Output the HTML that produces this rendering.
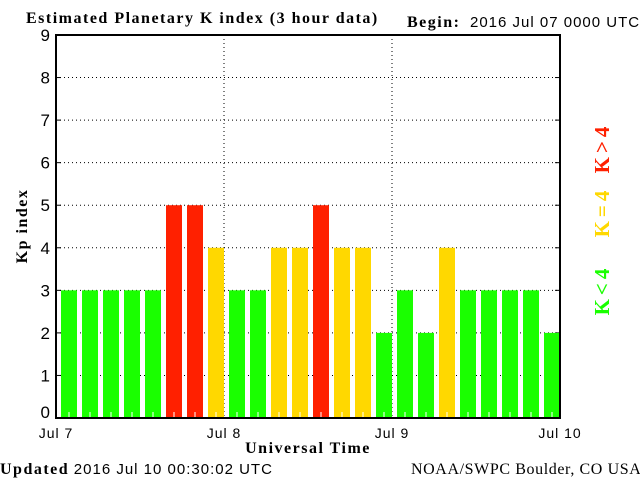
<!DOCTYPE html>
<html><head><meta charset="utf-8"><style>
body{margin:0;background:#fff;}
svg{display:block}
.s{font-family:"Liberation Sans",sans-serif;font-size:14px;letter-spacing:1px}
.b{font-family:"Liberation Serif",serif;font-weight:bold;font-size:16px;letter-spacing:1.5px}
.r{font-family:"Liberation Serif",serif;font-size:16px;letter-spacing:0.6px}
</style></head><body>
<svg id="c" width="640" height="480">
<text class="b" x="26" y="23">Estimated Planetary K index (3 hour data)</text>
<text class="b" x="407" y="27">Begin:</text>
<text class="s" x="470" y="27" style="font-size:15px">2016 Jul 07 0000 UTC</text>
<text class="b" x="0" y="0" transform="translate(27,226) rotate(-90)" text-anchor="middle">Kp index</text>
<text class="b" x="308" y="453" text-anchor="middle">Universal Time</text>
<text class="r" x="0" y="474"><tspan font-weight="bold" letter-spacing="1.5">Updated</tspan> <tspan font-family="Liberation Sans" font-size="15" letter-spacing="1">2016 Jul 10 00:30:02 UTC</tspan></text>
<text class="r" x="411" y="474">NOAA/SWPC Boulder, CO USA</text>
<text class="b" transform="translate(609,148) rotate(-90)" text-anchor="middle" fill="#ff2000" style="font-size:21px;letter-spacing:4px">K&gt;4</text>
<text class="b" transform="translate(609,212) rotate(-90)" text-anchor="middle" fill="#ffd800" style="font-size:21px;letter-spacing:4px">K=4</text>
<text class="b" transform="translate(609,290) rotate(-90)" text-anchor="middle" fill="#1aff00" style="font-size:21px;letter-spacing:4px">K&lt;4</text>
<g id="plot"></g>
</svg>
<script>
const values=[3,3,3,3,3,5,5,4,3,3,4,4,5,4,4,2,3,2,4,3,3,3,3,2];
const dayLabels=["Jul 7","Jul 8","Jul 9","Jul 10"];
const yTicks=[0,1,2,3,4,5,6,7,8,9];
const L=56,R=560,T=35,B=418,NS="http://www.w3.org/2000/svg";
const y=v=>B-(B-T)*v/9;
const slot=(R-L)/values.length;
const x=i=>L+i*slot;
const g=document.getElementById('plot');
function mk(t,a){const e=document.createElementNS(NS,t);for(const k in a)e.setAttribute(k,a[k]);g.appendChild(e);return e;}
yTicks.forEach(v=>{
 if(v>0&&v<9){const l=mk('line',{x1:L,x2:R,y1:y(v),y2:y(v),stroke:'#000','stroke-dasharray':'1,3'});
 
 }
 const t=mk('text',{x:50,y:Math.min(y(v)+6,B),'text-anchor':'end',class:'s',style:'font-size:17px;letter-spacing:0'});
 t.textContent=v;
 
 
 const tk=mk('line',{x1:L,x2:L+5,y1:y(v),y2:y(v),stroke:'#000'});
 
 
 const tr=mk('line',{x1:R-5,x2:R,y1:y(v),y2:y(v),stroke:'#000'});
 
 
});
dayLabels.forEach((d,i)=>{
 const px=L+i*8*slot;
 if(i>0&&i<dayLabels.length-1){const l=mk('line',{x1:px,x2:px,y1:T,y2:B,stroke:'#000','stroke-dasharray':'1,3'});
 
 }
 const t=mk('text',{x:px,y:438,'text-anchor':'middle',class:'s'});
 t.textContent=d;
 
 
});
values.forEach((v,i)=>{
 const c=v>4?'#ff2000':v==4?'#ffd800':'#1aff00';
 const r=mk('rect',{x:x(i)+5,y:y(v),width:slot-5,height:B-y(v),fill:c});
 
 
 const w=mk('line',{x1:x(i)+13,x2:x(i)+13,y1:B-6,y2:B,stroke:'#fff'});
 
 
});
const f=mk('rect',{x:L,y:T,width:R-L,height:B-T,fill:'none',stroke:'#000','stroke-width':2});


</script>
</body></html>
